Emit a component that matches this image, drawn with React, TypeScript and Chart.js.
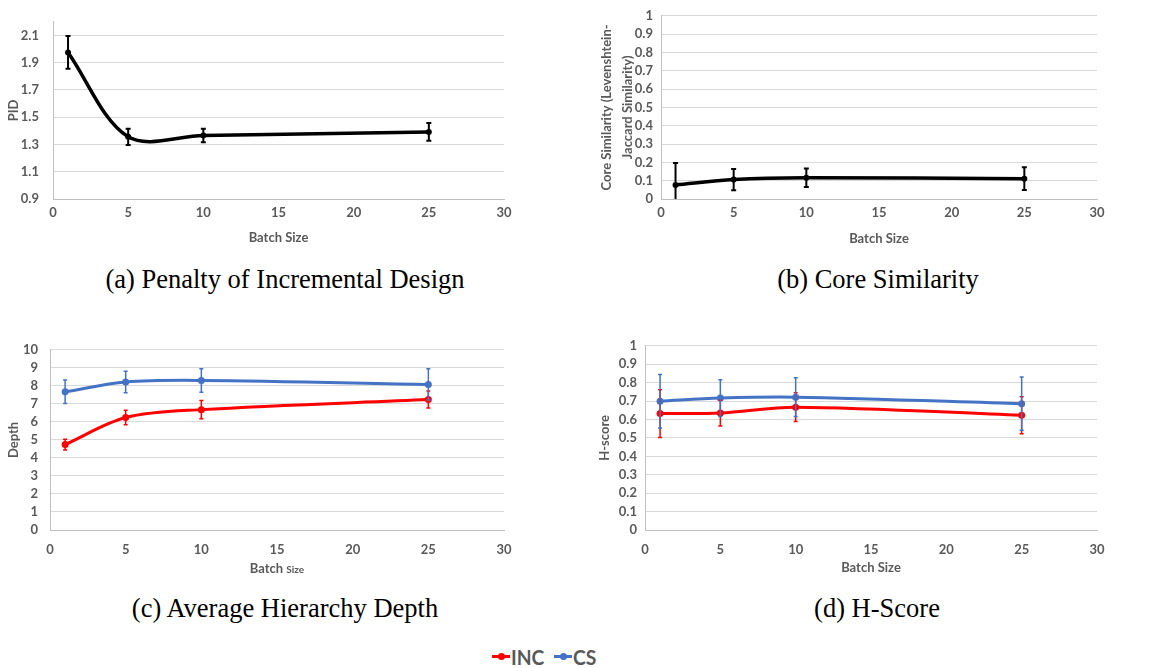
import React, { useEffect, useRef } from "react";
import { Chart, registerables } from "chart.js";

Chart.register(...registerables);

// ---------- data ----------
const batchSizes = [1, 5, 10, 25];
const xTickValues = [0, 5, 10, 15, 20, 25, 30];

const pidMean = [1.975, 1.356, 1.366, 1.392];
const pidErr = [0.12, 0.06, 0.05, 0.065];
const pidTicks = [0.9, 1.1, 1.3, 1.5, 1.7, 1.9, 2.1];

const coreMean = [0.077, 0.106, 0.116, 0.111];
const coreErr = [0.12, 0.058, 0.05, 0.062];
const unitTicks = [0, 0.1, 0.2, 0.3, 0.4, 0.5, 0.6, 0.7, 0.8, 0.9, 1];

const depthIncMean = [4.74, 6.24, 6.68, 7.24];
const depthIncErr = [0.3, 0.4, 0.5, 0.47];
const depthCsMean = [7.67, 8.21, 8.3, 8.08];
const depthCsErr = [0.65, 0.6, 0.65, 0.87];
const depthTicks = [0, 1, 2, 3, 4, 5, 6, 7, 8, 9, 10];

const hIncMean = [0.632, 0.635, 0.667, 0.623];
const hIncErr = [0.13, 0.07, 0.078, 0.1];
const hCsMean = [0.699, 0.716, 0.721, 0.686];
const hCsErr = [0.145, 0.1, 0.105, 0.145];

const seriesNames = ["INC", "CS"];
const captions = [
  "(a) Penalty of Incremental Design",
  "(b) Core Similarity",
  "(c) Average Hierarchy Depth",
  "(d) H-Score",
];
const xTitle = "Batch Size";
const yTitles: (string | string[])[] = [
  "PID",
  ["Core Similarity (Levenshtein-", "Jaccard Similarity)"],
  "Depth",
  "H-score",
];

// ---------- styles ----------
const INC_COLOR = "#ff0000";
const CS_COLOR = "#4472c4";
const BLACK = "#000000";
const TEXT = "#595959";
const GRID = "#d9d9d9";
const AXIS = "#bfbfbf";
const FONT = "Lato";
const TICK_SIZE = 13;
const TITLE_SIZE = 13;

const errorBarPlugin = {
  id: "errorBars",
  afterDatasetsDraw(chart: any) {
    const { ctx, scales } = chart;
    const xs = scales.x;
    const ys = scales.y;
    chart.data.datasets.forEach((ds: any) => {
      if (!ds.errors) return;
      ctx.save();
      ctx.strokeStyle = ds.borderColor;
      ctx.lineWidth = ds.errWidth;
      ds.data.forEach((pt: any, j: number) => {
        const e = ds.errors[j];
        const px = xs.getPixelForValue(pt.x);
        const hiV = pt.y + e;
        const loV = pt.y - e;
        const hi = ys.getPixelForValue(Math.min(hiV, ys.max));
        const lo = ys.getPixelForValue(Math.max(loV, ys.min));
        ctx.beginPath();
        ctx.moveTo(px, hi);
        ctx.lineTo(px, lo);
        if (hiV <= ys.max) {
          ctx.moveTo(px - ds.capHalf, hi);
          ctx.lineTo(px + ds.capHalf, hi);
        }
        if (loV >= ys.min) {
          ctx.moveTo(px - ds.capHalf, lo);
          ctx.lineTo(px + ds.capHalf, lo);
        }
        ctx.stroke();
      });
      ctx.restore();
    });
  },
};

type Series = { label: string; values: number[]; errors: number[]; color: string };
type PanelCfg = {
  left: number;
  top: number;
  width: number;
  height: number;
  areaLeft: number;
  areaTop: number;
  areaRight: number;
  areaBottom: number;
  yMin: number;
  yMax: number;
  yTicks: number[];
  yTitle: string | string[];
  yTitleCenter: number;
  yTitleLineHeight: number;
  yTickPad: number;
  xTickPad: number;
  xTitleCenter: number;
  splitTitle: boolean;
  lineWidth: number;
  pointRadius: number;
  errWidth: number;
  capHalf: number;
  series: Series[];
};

const panels: PanelCfg[] = [
  {
    left: 0, top: 0, width: 580, height: 255,
    areaLeft: 53, areaTop: 10, areaRight: 504, areaBottom: 199,
    yMin: 0.9, yMax: 2.2, yTicks: pidTicks, yTitle: yTitles[0],
    yTitleCenter: 14, yTitleLineHeight: 1.2, yTickPad: 14, xTickPad: 6, xTitleCenter: 238,
    splitTitle: false, lineWidth: 3.5, pointRadius: 3, errWidth: 2, capHalf: 2.5,
    series: [{ label: "PID", values: pidMean, errors: pidErr, color: BLACK }],
  },
  {
    left: 590, top: 0, width: 579, height: 255,
    areaLeft: 71, areaTop: 9, areaRight: 507, areaBottom: 199,
    yMin: 0, yMax: 1, yTicks: unitTicks, yTitle: yTitles[1],
    yTitleCenter: 17, yTitleLineHeight: 1.6, yTickPad: 8, xTickPad: 6, xTitleCenter: 239,
    splitTitle: false, lineWidth: 3.5, pointRadius: 3, errWidth: 2, capHalf: 2.5,
    series: [{ label: "Core", values: coreMean, errors: coreErr, color: BLACK }],
  },
  {
    left: 0, top: 330, width: 580, height: 255,
    areaLeft: 50, areaTop: 9, areaRight: 504, areaBottom: 200,
    yMin: 0, yMax: 10, yTicks: depthTicks, yTitle: yTitles[2],
    yTitleCenter: 14, yTitleLineHeight: 1.2, yTickPad: 12, xTickPad: 12, xTitleCenter: 238,
    splitTitle: true, lineWidth: 3, pointRadius: 3.5, errWidth: 1.5, capHalf: 2,
    series: [
      { label: seriesNames[0], values: depthIncMean, errors: depthIncErr, color: INC_COLOR },
      { label: seriesNames[1], values: depthCsMean, errors: depthCsErr, color: CS_COLOR },
    ],
  },
  {
    left: 590, top: 330, width: 579, height: 255,
    areaLeft: 55, areaTop: 9, areaRight: 507, areaBottom: 200,
    yMin: 0, yMax: 1, yTicks: unitTicks, yTitle: yTitles[3],
    yTitleCenter: 15, yTitleLineHeight: 1.2, yTickPad: 8, xTickPad: 12, xTitleCenter: 238,
    splitTitle: false, lineWidth: 3, pointRadius: 3.5, errWidth: 1.5, capHalf: 2,
    series: [
      { label: seriesNames[0], values: hIncMean, errors: hIncErr, color: INC_COLOR },
      { label: seriesNames[1], values: hCsMean, errors: hCsErr, color: CS_COLOR },
    ],
  },
];

function makeSplitTitlePlugin(cfg: PanelCfg) {
  return {
    id: "splitTitle",
    afterDraw(chart: any) {
      const { ctx, chartArea } = chart;
      const cx = (chartArea.left + chartArea.right) / 2;
      const baseline = cfg.xTitleCenter + 4.5;
      ctx.save();
      ctx.fillStyle = TEXT;
      ctx.textBaseline = "alphabetic";
      ctx.textAlign = "left";
      const bigFont = `bold ${TITLE_SIZE}px ${FONT}`;
      const smallFont = `bold 10px ${FONT}`;
      const parts = xTitle.split(" ");
      const first = parts[0] + " ";
      const second = parts.slice(1).join(" ");
      ctx.font = bigFont;
      const w1 = ctx.measureText(first).width;
      ctx.font = smallFont;
      const w2 = ctx.measureText(second).width;
      const x0 = cx - (w1 + w2) / 2;
      ctx.font = bigFont;
      ctx.fillText(first, x0, baseline);
      ctx.font = smallFont;
      ctx.fillText(second, x0 + w1, baseline);
      ctx.restore();
    },
  };
}

function Panel({ cfg }: { cfg: PanelCfg }) {
  const ref = useRef<HTMLCanvasElement>(null);
  useEffect(() => {
    const titleLH = TITLE_SIZE * cfg.yTitleLineHeight;
    const chart = new Chart(ref.current as HTMLCanvasElement, {
      type: "line",
      data: {
        datasets: cfg.series.map((s) => ({
          label: s.label,
          data: batchSizes.map((x, i) => ({ x, y: s.values[i] })),
          errors: s.errors,
          errWidth: cfg.errWidth,
          capHalf: cfg.capHalf,
          borderColor: s.color,
          backgroundColor: s.color,
          pointBackgroundColor: s.color,
          pointBorderColor: s.color,
          pointBorderWidth: 0,
          borderWidth: cfg.lineWidth,
          pointRadius: cfg.pointRadius,
          pointHoverRadius: cfg.pointRadius,
          tension: 0.33,
          fill: false,
          clip: false,
        })) as any,
      },
      options: {
        responsive: false,
        animation: false,
        events: [],
        layout: {
          padding: { left: 0, top: cfg.areaTop, right: cfg.width - cfg.areaRight, bottom: 0 },
        },
        plugins: {
          legend: { display: false },
          tooltip: { enabled: false },
        },
        scales: {
          x: {
            type: "linear",
            min: 0,
            max: 30,
            afterBuildTicks: (s: any) => {
              s.ticks = xTickValues.map((v) => ({ value: v }));
            },
            afterFit: (s: any) => {
              s.height = cfg.height - cfg.areaBottom;
            },
            grid: { display: false, drawTicks: false },
            border: { display: true, color: AXIS, width: 1 },
            ticks: {
              color: TEXT,
              font: { family: FONT, size: TICK_SIZE, weight: "bold" },
              padding: cfg.xTickPad,
              maxRotation: 0,
              autoSkip: false,
              callback: (v: any) => String(v),
            },
            title: {
              display: !cfg.splitTitle,
              text: xTitle,
              color: TEXT,
              font: { family: FONT, size: TITLE_SIZE, weight: "bold", lineHeight: 1.2 },
              padding: { top: 0, bottom: cfg.height - cfg.xTitleCenter - (TITLE_SIZE * 1.2) / 2 },
            },
          },
          y: {
            type: "linear",
            min: cfg.yMin,
            max: cfg.yMax,
            afterBuildTicks: (s: any) => {
              s.ticks = cfg.yTicks.map((v) => ({ value: v }));
            },
            afterFit: (s: any) => {
              s.width = cfg.areaLeft;
            },
            grid: { display: true, color: GRID, lineWidth: 1, drawTicks: false },
            border: { display: true, color: AXIS, width: 1 },
            ticks: {
              color: TEXT,
              font: { family: FONT, size: TICK_SIZE, weight: "bold" },
              padding: cfg.yTickPad,
              autoSkip: false,
              callback: (v: any) => String(v),
            },
            title: {
              display: true,
              text: cfg.yTitle,
              color: TEXT,
              font: { family: FONT, size: TITLE_SIZE, weight: "bold", lineHeight: cfg.yTitleLineHeight },
              padding: { top: cfg.yTitleCenter - titleLH / 2, bottom: 0 },
            },
          },
        },
      } as any,
      plugins: cfg.splitTitle ? [errorBarPlugin, makeSplitTitlePlugin(cfg)] : [errorBarPlugin],
    });
    return () => chart.destroy();
  }, []);
  return (
    <canvas
      ref={ref}
      width={cfg.width}
      height={cfg.height}
      style={{ position: "absolute", left: cfg.left, top: cfg.top, width: cfg.width, height: cfg.height }}
    />
  );
}

const captionPos = [
  { cx: 285, baseline: 288 },
  { cx: 878, baseline: 288 },
  { cx: 285, baseline: 617 },
  { cx: 877, baseline: 617 },
];

export default function App() {
  const legendColors = [INC_COLOR, CS_COLOR];
  return (
    <div style={{ position: "absolute", left: 0, top: 0, width: 1169, height: 668, background: "#fff", overflow: "hidden" }}>
      {panels.map((p, i) => (
        <Panel key={i} cfg={p} />
      ))}
      {captions.map((c, i) => (
        <div
          key={"cap" + i}
          style={{
            position: "absolute",
            left: captionPos[i].cx - 300,
            width: 600,
            top: captionPos[i].baseline - 22.2,
            textAlign: "center",
            fontFamily: "'Liberation Serif', serif",
            fontSize: 26.5,
            lineHeight: 1,
            color: "#000",
            whiteSpace: "nowrap",
          }}
        >
          {c}
        </div>
      ))}
      <div
        style={{
          position: "absolute",
          left: 492,
          top: 645.5,
          height: 21,
          display: "flex",
          alignItems: "center",
          fontFamily: FONT,
          fontWeight: 700,
          fontSize: 21,
          lineHeight: 1,
          color: TEXT,
          whiteSpace: "nowrap",
        }}
      >
        {seriesNames.map((n, i) => (
          <div key={n} style={{ display: "flex", alignItems: "center", marginRight: i === 0 ? 7 : 0 }}>
            <span
              style={{
                position: "relative",
                display: "inline-block",
                width: 18,
                height: 3,
                background: legendColors[i],
                marginRight: 1,
              }}
            >
              <span
                style={{
                  position: "absolute",
                  left: 5.5,
                  top: -2,
                  width: 7,
                  height: 7,
                  borderRadius: "50%",
                  background: legendColors[i],
                }}
              />
            </span>
            <span style={{ display: "inline-block", transform: "scaleX(0.92)", transformOrigin: "left center" }}>{n}</span>
          </div>
        ))}
      </div>
    </div>
  );
}
